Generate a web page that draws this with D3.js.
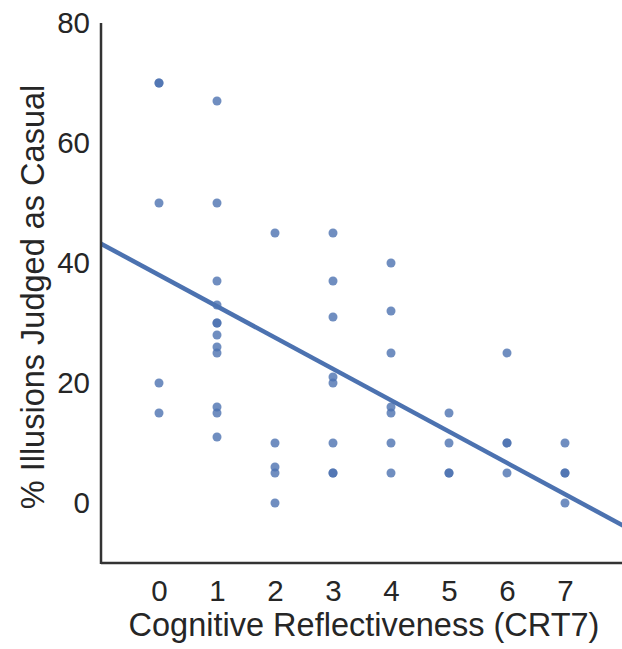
<!DOCTYPE html>
<html><head><meta charset="utf-8">
<script src="https://cdn.jsdelivr.net/npm/d3@7"></script>
<style>body{margin:0;background:#fff}svg{display:block}text{font-family:"Liberation Sans",Arial,sans-serif;fill:#262626}</style>
</head><body><svg id="c" width="622" height="649"></svg>
<script>
const crtX = [0,0,0,0,0, 1,1,1,1,1,1,1,1,1,1,1,1, 2,2,2,2,2, 3,3,3,3,3,3,3,3, 4,4,4,4,4,4,4, 5,5,5,5, 6,6,6,6, 7,7,7,7];
const pctY = [70,70,50,20,15, 67,50,37,33,30,30,28,26,25,16,15,11, 45,10,6,5,0, 45,37,31,21,20,10,5,5, 40,32,25,16,15,10,5, 15,10,5,5, 25,10,10,5, 10,5,5,0];
const xTicks = [0,1,2,3,4,5,6,7];
const yTicks = [0,20,40,60,80];
const fitIntercept = 38.0;
const fitSlope = -5.22;
const xLabel = "Cognitive Reflectiveness (CRT7)";
const yLabel = "% Illusions Judged as Casual";

const svg = d3.select("#c");
const x = d3.scaleLinear().domain([-1, 8]).range([101, 623]);
const y = d3.scaleLinear().domain([-10, 80]).range([563, 23]);

// points
svg.append("g").selectAll("circle").data(crtX.map((v,i)=>[v,pctY[i]])).join("circle")
  .attr("cx", d=>x(d[0])).attr("cy", d=>y(d[1])).attr("r", 4.5)
  .attr("fill", "#4c72b0").attr("fill-opacity", 0.8);

// regression line
const xs = [-1, 8];
svg.append("line")
  .attr("x1", x(xs[0])).attr("y1", y(fitIntercept + fitSlope*xs[0]))
  .attr("x2", x(xs[1])).attr("y2", y(fitIntercept + fitSlope*xs[1]))
  .attr("stroke", "#4c72b0").attr("stroke-width", 4.5);

// axes
const gx = svg.append("g").attr("transform", "translate(0,563)")
  .call(d3.axisBottom(x).tickValues(xTicks).tickSize(0).tickPadding(17).tickFormat(d3.format("d")));
const gy = svg.append("g").attr("transform", "translate(101,0)")
  .call(d3.axisLeft(y).tickValues(yTicks).tickSize(0).tickPadding(11).tickFormat(d3.format("d")));
[gx, gy].forEach(g => {
  g.select(".domain").attr("stroke", "#333").attr("stroke-width", 2.5);
  g.selectAll("text").attr("font-size", 29.5).attr("fill", "#262626").attr("font-family", '"Liberation Sans",Arial,sans-serif');
});
gx.select(".domain").attr("d", "M101,0H622");
gy.select(".domain").attr("d", "M0,23V564");

svg.append("text").attr("x", 364).attr("y", 636).attr("text-anchor", "middle")
  .attr("font-size", 32.5).text(xLabel);
svg.append("text").attr("transform", "translate(44,297) rotate(-90)").attr("text-anchor", "middle")
  .attr("font-size", 32.5).text(yLabel);
</script></body></html>
